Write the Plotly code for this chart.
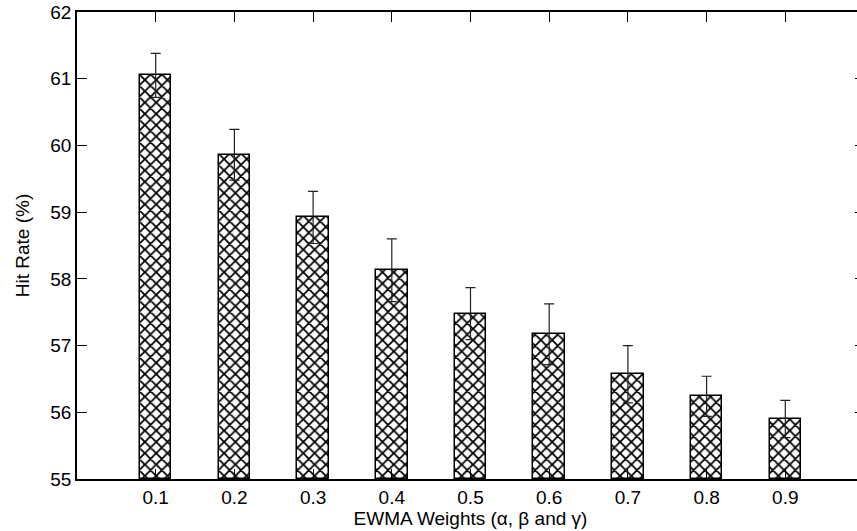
import plotly.graph_objects as go

weights = [0.1, 0.2, 0.3, 0.4, 0.5, 0.6, 0.7, 0.8, 0.9]
tick_labels = ["0.1", "0.2", "0.3", "0.4", "0.5", "0.6", "0.7", "0.8", "0.9"]
hit_rate = [61.05, 59.86, 58.92, 58.13, 57.48, 57.17, 56.57, 56.24, 55.90]
hit_err = [0.33, 0.38, 0.39, 0.47, 0.39, 0.455, 0.43, 0.30, 0.28]
y_ticks = [55, 56, 57, 58, 59, 60, 61, 62]

FONT = "Liberation Sans, Arial, sans-serif"

fig = go.Figure()
fig.add_trace(go.Bar(
    x=weights, y=[v - 55 for v in hit_rate], base=55,
    width=0.04,
    marker=dict(color="white",
                line=dict(color="black", width=1.5),
                pattern=dict(shape="x", size=8, solidity=0.4,
                             fgcolor="black", fgopacity=1, bgcolor="white")),
    error_y=dict(type="data", array=hit_err, visible=True,
                 color="#222222", thickness=1.2, width=5),
    showlegend=False,
))
# invisible trace to carry the right-hand axis ticks
fig.add_trace(go.Scatter(x=[None], y=[None], yaxis="y2", showlegend=False))

fig.update_layout(
    width=864, height=531,
    margin=dict(l=77, r=0, t=12, b=52),
    paper_bgcolor="white", plot_bgcolor="white",
    font=dict(family=FONT, size=19, color="black"),
    bargap=0,
    xaxis=dict(range=[0, 1.0], tickvals=weights, ticktext=tick_labels,
               ticks="inside", ticklen=10, tickwidth=1.2, tickcolor="black",
               showline=True, linecolor="black", linewidth=1.5, mirror="ticks",
               showgrid=False, zeroline=False, automargin=False,
               title=dict(text="EWMA Weights (α, β and γ)", font=dict(size=19), standoff=2),
               tickfont=dict(size=19)),
    yaxis=dict(range=[55, 62], tickvals=y_ticks,
               ticks="inside", ticklen=10, tickwidth=1.2, tickcolor="black",
               showline=True, linecolor="black", linewidth=1.5,
               showgrid=False, zeroline=False, automargin=False,
               ticklabeloverflow="allow",
               title=dict(text="Hit Rate (%)", font=dict(size=19), standoff=16),
               tickfont=dict(size=19)),
    yaxis2=dict(range=[55, 62], tickvals=y_ticks, overlaying="y", side="right",
                ticks="inside", ticklen=9, tickwidth=1.2, tickcolor="black",
                showline=True, linecolor="black", linewidth=1.5,
                showgrid=False, zeroline=False, automargin=False,
                showticklabels=False),
)

fig.write_html(
    "out.html",
    config={"displayModeBar": False},
    post_script="document.body.style.margin='0';document.body.style.overflow='hidden';",
)
